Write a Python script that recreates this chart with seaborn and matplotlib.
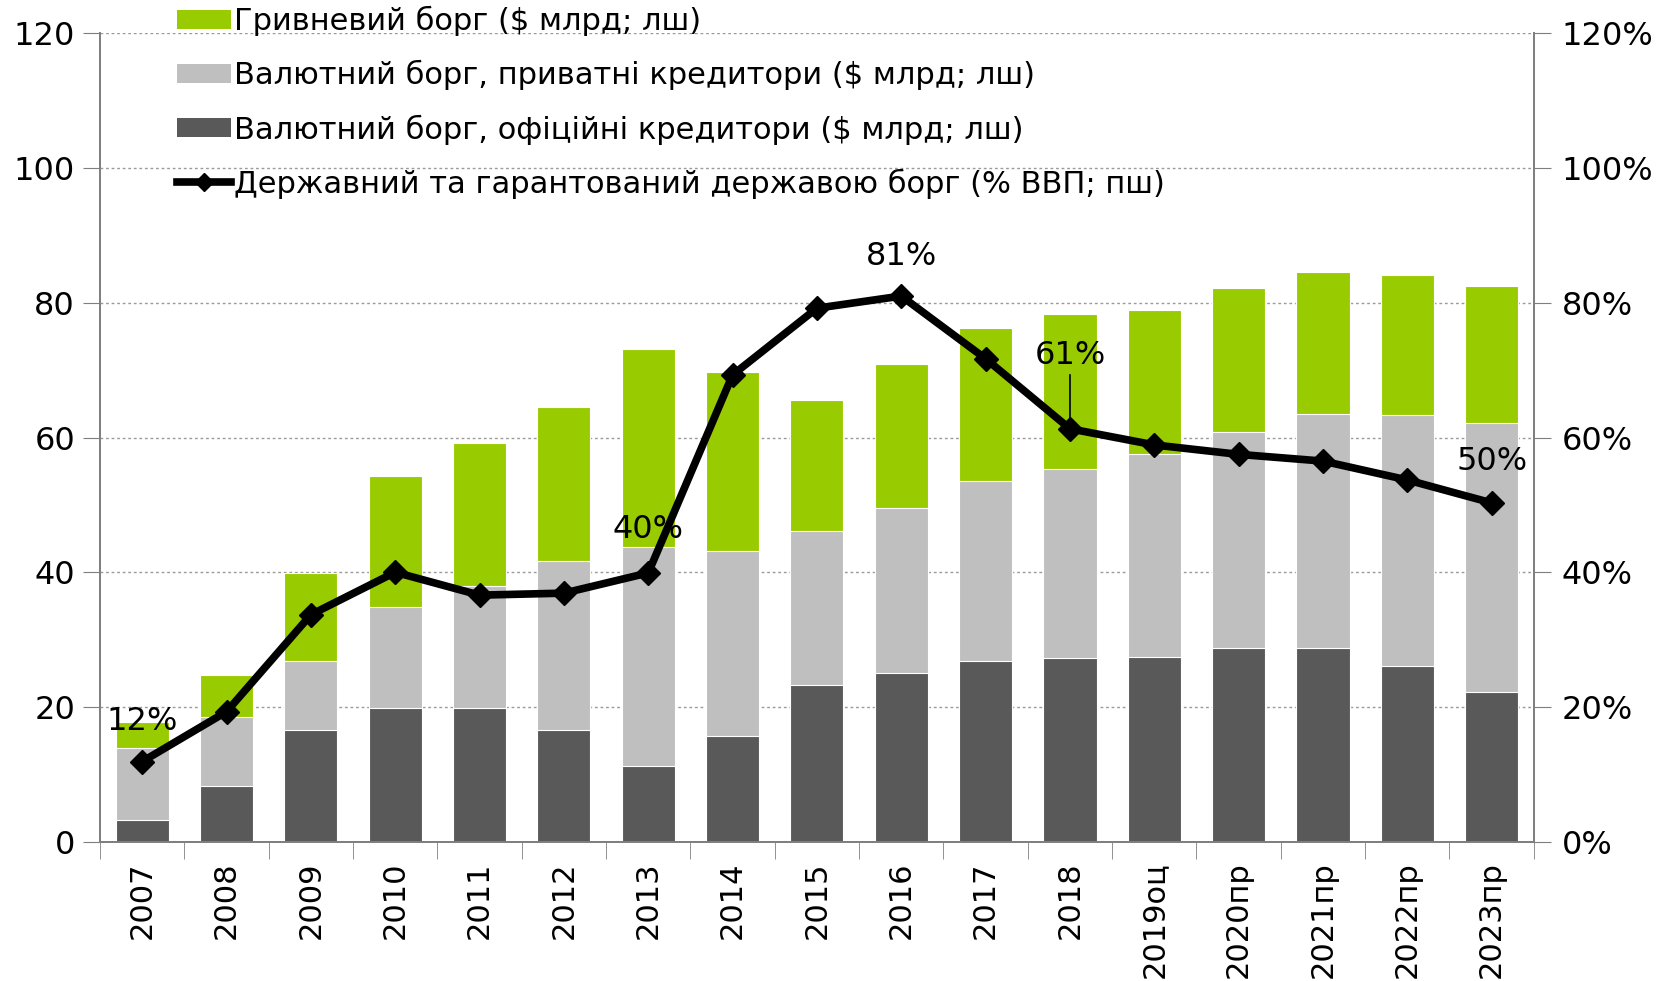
import numpy as np
import pandas as pd
import matplotlib
matplotlib.use("Agg")
import matplotlib.pyplot as plt
import seaborn as sns
from matplotlib.patches import Patch
from matplotlib.lines import Line2D

years = ["2007", "2008", "2009", "2010", "2011", "2012", "2013", "2014", "2015",
         "2016", "2017", "2018", "2019оц", "2020пр", "2021пр", "2022пр", "2023пр"]
official = [3.2, 8.2, 16.6, 19.9, 19.9, 16.6, 11.2, 15.7, 23.3, 25.0, 26.8, 27.2,
            27.4, 28.8, 28.8, 26.1, 22.2]
private = [10.7, 10.3, 10.2, 14.9, 18.1, 25.0, 32.6, 27.5, 22.8, 24.5, 26.7, 28.2,
           30.1, 32.0, 34.7, 37.2, 39.9]
uah = [3.8, 6.2, 13.1, 19.5, 21.2, 23.0, 29.3, 26.6, 19.4, 21.4, 22.8, 23.0,
       21.5, 21.4, 21.0, 20.8, 20.4]
debt_gdp = [11.9, 19.3, 33.7, 40.0, 36.6, 36.9, 39.9, 69.3, 79.2, 81.0, 71.7, 61.3,
            58.9, 57.5, 56.5, 53.7, 50.3]

# annotated points: index, label, text y (% on right axis)
notes = [(0, "12%", 17.9), (6, "40%", 46.4), (9, "81%", 86.9), (11, "61%", 72.2), (16, "50%", 56.5)]

GREEN = "#99CC00"
LGREY = "#BFBFBF"
DGREY = "#595959"
FS = 23

df = pd.DataFrame({"year": years, "official": official, "private": private, "uah": uah})
df["lvl2"] = df["official"] + df["private"]
df["lvl3"] = df["lvl2"] + df["uah"]

plt.rcParams["font.family"] = ["DejaVu Sans"]
fig = plt.figure(figsize=(16.73, 9.81), dpi=100)
ax = fig.add_axes([0.0598, 0.142, 0.857, 0.824])

for col, c in [("lvl3", GREEN), ("lvl2", LGREY), ("official", DGREY)]:
    sns.barplot(data=df, x="year", y=col, color=c, width=0.63, ax=ax,
                edgecolor="white", linewidth=0.8, saturation=1, zorder=2)

ax.set_ylim(0, 120)
ax.set_xlim(-0.5, len(years) - 0.5)
ax.set_yticks(range(0, 121, 20))
ax.set_xlabel("")
ax.set_ylabel("")
ax.yaxis.grid(True, linestyle=(0, (2, 2)), color="#9a9a9a", linewidth=1, zorder=0)
ax.set_axisbelow(True)
ax.tick_params(axis="y", labelsize=FS, length=12, color="#7f7f7f", pad=6)
ax.set_xticks(np.arange(len(years)))
ax.set_xticklabels(years, rotation=90, fontsize=22)
ax.tick_params(axis="x", length=0, pad=14)
# category separator ticks
ax.set_xticks(np.arange(-0.5, len(years) + 0.5, 1), minor=True)
ax.tick_params(axis="x", which="minor", length=12, color="#7f7f7f")
for s in ["left", "right", "bottom"]:
    ax.spines[s].set_color("#7f7f7f")
    ax.spines[s].set_linewidth(1.3)
ax.spines["top"].set_visible(False)

ax2 = ax.twinx()
ax2.plot(np.arange(len(years)), debt_gdp, color="black", linewidth=5.5,
         marker="D", markersize=12, zorder=5)
ax2.set_ylim(0, 120)
ax2.set_yticks(range(0, 121, 20))
ax2.set_yticklabels([f"{v}%" for v in range(0, 121, 20)])
ax2.tick_params(axis="y", labelsize=FS, length=12, color="#7f7f7f", pad=8)
for s in ["left", "right", "bottom"]:
    ax2.spines[s].set_color("#7f7f7f")
    ax2.spines[s].set_linewidth(1.3)
ax2.spines["top"].set_visible(False)

for i, lab, ty in notes:
    ax2.text(i, ty, lab, ha="center", va="center", fontsize=FS, zorder=6)
ax2.plot([11, 11], [69.3, 61.9], color="black", linewidth=1.2, zorder=6)

handles = [
    Patch(facecolor=GREEN, label="Гривневий борг ($ млрд; лш)"),
    Patch(facecolor=LGREY, label="Валютний борг, приватні кредитори ($ млрд; лш)"),
    Patch(facecolor=DGREY, label="Валютний борг, офіційні кредитори ($ млрд; лш)"),
    Line2D([0], [0], color="black", linewidth=5.5, marker="D", markersize=9,
           label="Державний та гарантований державою борг (% ВВП; пш)"),
]
fig.legend(handles=handles, loc="upper left", bbox_to_anchor=(174 / 1673, 0.997),
           frameon=False, fontsize=22, handlelength=1.75, handleheight=0.6,
           handletextpad=0.1, labelspacing=0.78, borderpad=0.1, borderaxespad=0)

fig.savefig("out.png", dpi=100)
